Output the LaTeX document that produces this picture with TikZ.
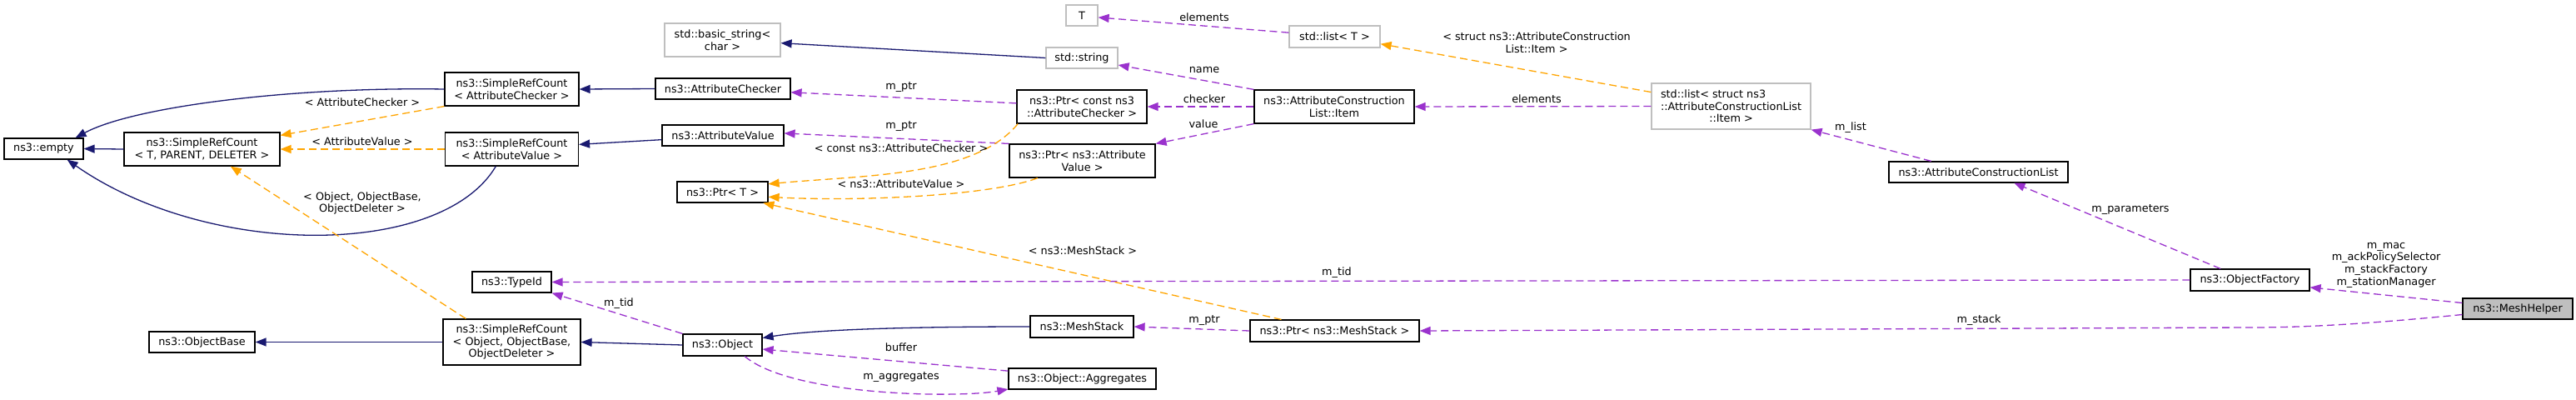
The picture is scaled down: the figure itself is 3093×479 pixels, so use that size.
\documentclass[tikz,border=0pt]{standalone}
\usepackage{fontspec}
\setmainfont{DejaVu Sans}
\usepackage{calc}
\usetikzlibrary{arrows.meta}
\definecolor{navy}{HTML}{191970}
\definecolor{purp}{HTML}{9A32CD}
\definecolor{orng}{HTML}{FFA500}
\definecolor{boxgray}{HTML}{BFBFBF}
\newcommand{\dxf}{\fontsize{12.8pt}{14.7pt}\selectfont}
\tikzset{
  box/.style={draw=black, fill=white, line width=1.2pt, inner sep=0pt, align=center, font=\dxf},
  gbox/.style={box, draw=boxgray},
  lbl/.style={inner sep=0pt, align=center, font=\dxf},
  tip/.style={-{Triangle[length=13pt,width=10pt]}},
  inh/.style={tip, draw=navy, line width=1.3pt},
  use/.style={tip, draw=purp, line width=1.3pt, dash pattern=on 9pt off 5pt},
  tmpl/.style={tip, draw=orng, line width=1.3pt, dash pattern=on 9pt off 5pt},
}
\begin{document}
\begin{tikzpicture}[x=1pt,y=-1pt]
\useasboundingbox[fill=white] (0,0) rectangle (3093,479);
% nodes
\node[box, minimum width=95pt, minimum height=25pt] (empty) at (52.5,178.5) {ns3::empty};
\node[box, minimum width=187pt, minimum height=40pt] (srcTPD) at (242.5,179) {ns3::SimpleRefCount\\< T, PARENT, DELETER >};
\node[box, minimum width=161pt, minimum height=40pt] (srcAC) at (614.5,107) {ns3::SimpleRefCount\\< AttributeChecker >};
\node[box, minimum width=160pt, minimum height=40pt] (srcAV) at (614.5,179) {ns3::SimpleRefCount\\< AttributeValue >};
\node[box, minimum width=95pt, minimum height=25pt] (typeid) at (614.5,338.5) {ns3::TypeId};
\node[box, minimum width=127pt, minimum height=25pt] (objbase) at (242.5,410.5) {ns3::ObjectBase};
\node[box, minimum width=165pt, minimum height=55pt] (srcOOD) at (614.5,410.5) {ns3::SimpleRefCount\\< Object, ObjectBase,\\ObjectDeleter >};
\node[gbox, minimum width=38pt, minimum height=25pt] (T) at (1299,18.5) {T};
\node[gbox, minimum width=139pt, minimum height=40pt] (basicstr) at (867.5,48) {std::basic\_string<\\char >};
\node[gbox, minimum width=86pt, minimum height=25pt] (stdstring) at (1299,69.5) {std::string};
\node[box, minimum width=162pt, minimum height=25pt] (attrchecker) at (868,106.5) {ns3::AttributeChecker};
\node[box, minimum width=146pt, minimum height=25pt] (attrvalue) at (868,162.5) {ns3::AttributeValue};
\node[box, minimum width=109pt, minimum height=25pt] (ptrT) at (867.5,230.5) {ns3::Ptr< T >};
\node[box, minimum width=156pt, minimum height=40pt] (ptrcAC) at (1299,128) {ns3::Ptr< const ns3\\::AttributeChecker >};
\node[box, minimum width=175pt, minimum height=40pt] (ptrAV) at (1299.5,193) {ns3::Ptr< ns3::Attribute\\Value >};
\node[box, minimum width=124pt, minimum height=26pt] (meshstack) at (1299,392) {ns3::MeshStack};
\node[box, minimum width=95pt, minimum height=26pt] (object) at (867.5,414) {ns3::Object};
\node[box, minimum width=177pt, minimum height=25pt] (aggregates) at (1299.5,454.5) {ns3::Object::Aggregates};
\node[box, minimum width=192pt, minimum height=40pt] (item) at (1602,128) {ns3::AttributeConstruction\\List::Item};
\node[gbox, minimum width=109pt, minimum height=26pt] (listT) at (1602.5,44) {std::list< T >};
\node[gbox, minimum width=191pt, minimum height=55pt] (liststruct) at (2078.5,127.5) {\makebox[\widthof{::AttributeConstructionList}][l]{std::list< struct ns3}\\::AttributeConstructionList\\::Item >};
\node[box, minimum width=203pt, minimum height=26pt] (ptrMS) at (1602.5,397) {ns3::Ptr< ns3::MeshStack >};
\node[box, minimum width=215pt, minimum height=25pt] (acl) at (2375.5,206.5) {ns3::AttributeConstructionList};
\node[box, minimum width=143pt, minimum height=26pt] (objfactory) at (2701.5,336) {ns3::ObjectFactory};
\node[box, fill=boxgray, minimum width=132pt, minimum height=25pt] (meshhelper) at (3023,370.5) {ns3::MeshHelper};
% edges
\draw[inh] (srcAC.west) .. controls (350,104) and (160,128) .. (empty.19);
\draw[inh] (srcAV.-133) .. controls (530,310) and (250,310) .. (empty.-25);
\draw[inh] (srcTPD.west) -- (empty.east);
\draw[tmpl] (srcAC.south west) -- (srcTPD.10);
\draw[tmpl] (srcAV.west) -- (srcTPD.east);
\draw[tmpl] (srcOOD.153) -- (srcTPD.-31);
\draw[inh] (srcOOD.west) -- (objbase.east);
\draw[inh] (object.west) -- (srcOOD.east);
\draw[use] (object.north west) -- (typeid.south east);
\draw[use] (objfactory.west) -- (typeid.east);
\draw[inh] (stdstring.west) -- (basicstr.-3);
\draw[use] (ptrcAC.177) -- (attrchecker.-3);
\draw[inh] (attrchecker.west) -- (srcAC.east);
\draw[inh] (attrvalue.184) -- (srcAV.4);
\draw[use] (ptrAV.north west) -- (attrvalue.2);
\draw[tmpl] (ptrcAC.195) .. controls (1170,212) and (1040,210) .. (ptrT.10);
\draw[tmpl] (ptrAV.201) .. controls (1190,235) and (1030,242) .. (ptrT.-6);
\draw[tmpl] (ptrMS.168) -- (ptrT.-15);
\draw[inh] (meshstack.west) .. controls (1100,392) and (980,395) .. (object.10);
\draw[use] (ptrMS.west) -- (meshstack.east);
\draw[use] (aggregates.174) -- (object.-6);
\draw[use] (object.-27) .. controls (950,475) and (1150,478) .. (aggregates.188);
\draw[use] (item.north west) -- (stdstring.-11);
\draw[use] (item.west) -- (ptrcAC.east);
\draw[use] (item.south west) -- (ptrAV.north east);
\draw[use] (listT.175) -- (T.-7);
\draw[tmpl] (liststruct.170) -- (listT.-9);
\draw[use] (liststruct.west) -- (item.east);
\draw[use] (acl.167) -- (liststruct.south east);
\draw[use] (objfactory.159) -- (acl.-17);
\draw[use] (meshhelper.174) -- (objfactory.-7);
\draw[use] (meshhelper.186) .. controls (2830,390) and (2760,393) .. (2700,393) -- (ptrMS.east);
% labels
\node[lbl] (lac) at (435,123) {< AttributeChecker >};
\node[lbl] (lav) at (435,170) {< AttributeValue >};
\node[lbl] (lood) at (435,244) {< Object, ObjectBase,\\ObjectDeleter >};
\node[lbl] (ltid1) at (743,364) {m\_tid};
\node[lbl] (lelem1) at (1446,21) {elements};
\node[lbl] (lname) at (1446,84) {name};
\node[lbl] (lptr1) at (1082,105) {m\_ptr};
\node[lbl] (lchecker) at (1446,119) {checker};
\node[lbl] (lptr2) at (1082,152) {m\_ptr};
\node[lbl] (lvalue) at (1445,149) {value};
\node[lbl] (lcac) at (1082,178) {< const ns3::AttributeChecker >};
\node[lbl] (lnav) at (1082,221) {< ns3::AttributeValue >};
\node[lbl] (lnms) at (1300,301) {< ns3::MeshStack >};
\node[lbl] (lptr3) at (1446,385) {m\_ptr};
\node[lbl] (lbuf) at (1082,417) {buffer};
\node[lbl] (lagg) at (1082,453) {m\_aggregates};
\node[lbl] (lstruct) at (1845,51) {< struct ns3::AttributeConstruction\\List::Item >};
\node[lbl] (lelem2) at (1845,119) {elements};
\node[lbl] (llist) at (2222,153) {m\_list};
\node[lbl] (ltid2) at (1605,327) {m\_tid};
\node[lbl] (lparam) at (2558,252) {m\_parameters};
\node[lbl] (lmac) at (2865,318) {m\_mac\\m\_ackPolicySelector\\m\_stackFactory\\m\_stationManager};
\node[lbl] (lstack) at (2376,384) {m\_stack};
\end{tikzpicture}
\end{document}
